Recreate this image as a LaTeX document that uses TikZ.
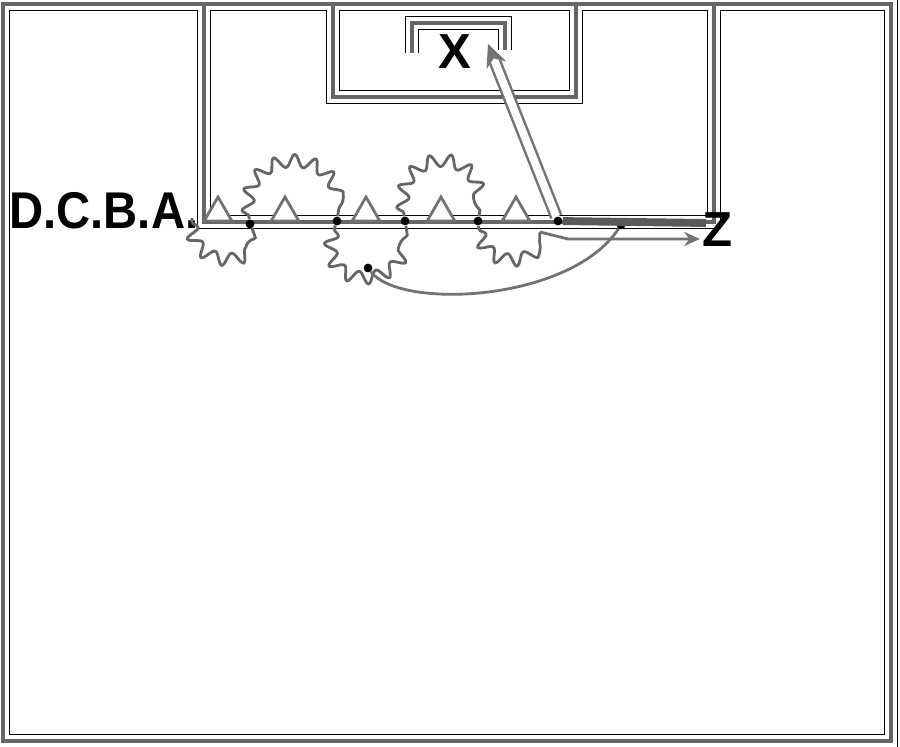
\documentclass[tikz,border=0pt]{standalone}
\usepackage{fontspec}
\usepackage{graphicx}
\setsansfont{Liberation Sans}
\usetikzlibrary{shapes.geometric, decorations.pathmorphing, arrows.meta, positioning}

\begin{document}
\begin{tikzpicture}[x=0.02cm, y=-0.02cm,
    field/.style={draw=black!60, line width=2.2pt,
        preaction={draw=black, line width=0.5pt, double=white, double distance=7pt}},
    cone/.style={regular polygon, regular polygon sides=3, draw=black!55, line width=1.6pt,
        fill=white, inner sep=0pt, minimum size=0.64cm},
    dribble/.style={draw=black!60, line width=1.6pt, decorate,
        decoration={snake, amplitude=3.5pt, segment length=11pt, pre length=2pt, post length=2pt}},
    run/.style={draw=black!55, line width=1.6pt},
    shot/.style={draw=black!55, line width=1.4pt, double=white, double distance=4.5pt,
        -{Stealth[length=13pt, width=12pt]}},
    jdot/.style={circle, fill=black, inner sep=0pt, minimum size=5pt},
    player/.style={font=\sffamily\bfseries\fontsize{28}{30}\selectfont, inner sep=0pt}]
    \useasboundingbox (0,0) rectangle (900,747);

    % pitch, box, six yard box and goal
    \draw[field] (3,4) rectangle (891,741)
        (204,4) -- (204,222) -- (714,222) -- (714,4)
        (333,4) -- (333,97) -- (576,97) -- (576,4)
        (412,53) -- (412,23) -- (505,23) -- (505,50);

    \node[player, anchor=base west] (queue) at (9,228) {\scalebox{0.96}[1.05]{D.C.B.A.}};
    \node[player] (keeper) at (455,52) {X};
    \node[player] (zed) at (718,230) {Z};

    \coordinate (p0) at (192,218);
    \node[jdot] (p1) at (250,224) {};
    \node[jdot] (p2) at (337,221) {};
    \node[jdot] (p3) at (405,221) {};
    \node[jdot] (p4) at (478,221) {};
    \node[jdot] (p5) at (558,221) {};
    \node[jdot] (p6) at (368,268) {};
    \node[jdot] (p7) at (621,225) {};
    \node[jdot] (cross) at (509,97) {};
    \coordinate (q5) at (540,232);
    \coordinate (q6) at (568,239);
    \coordinate (zz) at (700,239);
    \coordinate (zt) at (706,223);
    \coordinate (aim) at (488,44);

    \draw[black!65, line width=4.5pt] (p5) -- (zt);

    \foreach \cx [count=\i] in {218,285,366,441,516}
        \node[cone] (c\i) at (\cx,213) {};

    % slalom through the cones
    \draw[dribble] (p0) .. controls (188,268) and (268,262) .. (p1);
    \draw[dribble] (p1) .. controls (238,148) and (348,148) .. (p2);
    \draw[dribble] (p2) .. controls (312,290) and (418,288) .. (p3);
    \draw[dribble] (p3) .. controls (393,148) and (492,148) .. (p4);
    \draw[dribble] (p4) .. controls (482,266) and (540,262) .. (q5);

    \draw[run, -{Stealth[length=9pt, width=8pt]}] (q5) -- (q6) -- (zz);
    \draw[run] (p6) .. controls (400,310) and (570,302) .. (p7);
    \draw[shot] (p5) -- (aim);
\end{tikzpicture}
\end{document}
